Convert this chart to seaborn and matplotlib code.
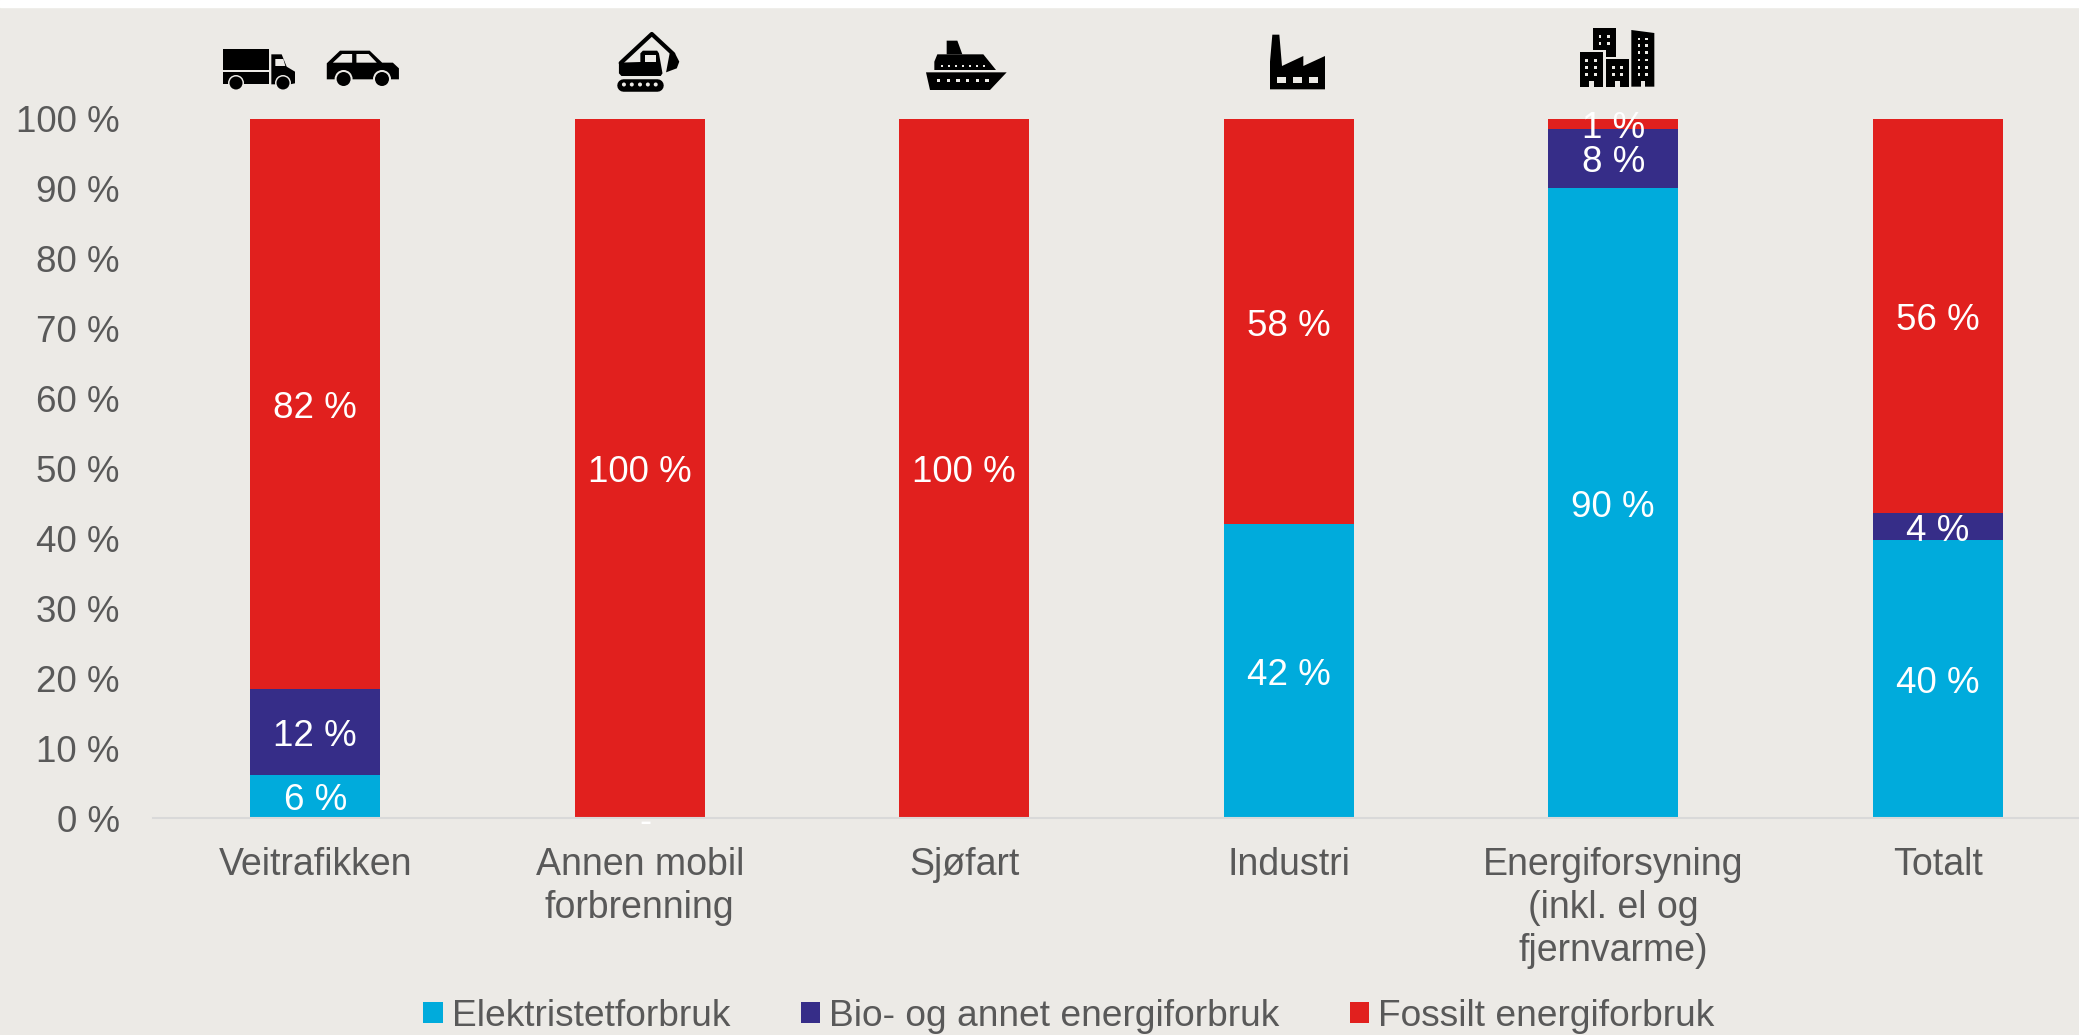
import numpy as np
import matplotlib
matplotlib.use("Agg")
import matplotlib.pyplot as plt
from matplotlib.patches import Circle, Rectangle
import seaborn as sns

kategorier = ["Veitrafikken", "Annen mobil\nforbrenning", "Sjøfart", "Industri",
              "Energiforsyning\n(inkl. el og\nfjernvarme)", "Totalt"]
elektrisitet = [6.2, 0, 0, 42.0, 90.1, 39.7]
bio = [12.3, 0, 0, 0, 8.5, 3.9]
fossilt = [81.5, 100, 100, 58.0, 1.4, 56.4]
etiketter_el = ["6 %", "", "", "42 %", "90 %", "40 %"]
etiketter_bio = ["12 %", "", "", "", "8 %", "4 %"]
etiketter_fossilt = ["82 %", "100 %", "100 %", "58 %", "1 %", "56 %"]
serier = ["Elektristetforbruk", "Bio- og annet energiforbruk", "Fossilt energiforbruk"]
y_ticks = list(range(0, 101, 10))

BLA, LILLA, ROD = "#00ABDC", "#362D88", "#E1201E"
BAKGRUNN = "#ECEAE6"
TEKST = "#595959"
W, H = 2079, 1035

sns.set_style("white")
plt.rcParams["font.family"] = ["Liberation Sans", "DejaVu Sans"]
plt.rcParams["font.size"] = 26

fig = plt.figure(figsize=(W / 100, H / 100), dpi=100, facecolor=BAKGRUNN)
fig.patches.append(Rectangle((0, 1 - 7 / H), 1, 7 / H, transform=fig.transFigure, color="white"))

ax = fig.add_axes([153 / W, 1 - 818 / H, (W - 153) / W, 699 / H])
ax.set_facecolor(BAKGRUNN)

sns.barplot(x=kategorier, y=elektrisitet, color=BLA, saturation=1, width=0.4,
            linewidth=0, label=serier[0], ax=ax)
sns.barplot(x=kategorier, y=bio, bottom=elektrisitet, color=LILLA, saturation=1, width=0.4,
            linewidth=0, label=serier[1], ax=ax)
sns.barplot(x=kategorier, y=fossilt, bottom=np.add(elektrisitet, bio), color=ROD, saturation=1,
            width=0.4, linewidth=0, label=serier[2], ax=ax)

for c, tekst in zip(ax.containers, [etiketter_el, etiketter_bio, etiketter_fossilt]):
    for a in ax.bar_label(c, labels=tekst, label_type="center", color="white", fontsize=26.5):
        a.xyann = (0, -3.2)
ax.annotate("-", xy=(1, 0), xytext=(4, -3), textcoords="offset points", color="white",
            fontsize=26, ha="center", va="center", annotation_clip=False)

ax.set_xlim(-0.5, (W - 153) / 324.5 - 0.5)
ax.set_ylim(0, 100)
ax.set_yticks(y_ticks)
ax.set_yticklabels([f"{v} %" for v in y_ticks])
ax.tick_params(axis="both", length=0, labelcolor=TEKST)
ax.tick_params(axis="y", pad=24, labelsize=26.5)
ax.tick_params(axis="x", pad=21, labelsize=27)
for lbl in ax.get_xticklabels():
    lbl.set_linespacing(1.25)
sns.despine(ax=ax, left=True)
ax.spines["bottom"].set_color("#D9D9D9")
ax.spines["bottom"].set_linewidth(1.5)

handles, labels = ax.get_legend_handles_labels()
ax.get_legend().remove()
fig.legend(handles, labels, loc="center", bbox_to_anchor=(1069 / W, 1 - 1016 / H), ncol=3,
           frameon=False, fontsize=26.7, labelcolor=TEKST, borderpad=0, handlelength=0.52,
           handleheight=0.52, handletextpad=0.25, columnspacing=1.9)

# ikoner over soylene, tegnet i piksler
ik = fig.add_axes([0, 0, 1, 1], facecolor="none")
ik.set_xlim(0, W)
ik.set_ylim(H, 0)
ik.axis("off")


def poly(pts, x0=0, y0=0, sx=3, sy=3, color="black"):
    ik.fill([x0 + p[0] / sx for p in pts], [y0 + p[1] / sy for p in pts], color=color, lw=0)


def firkant(x1, y1, x2, y2, x0=0, y0=0, sx=3, sy=3, color="black"):
    poly([(x1, y1), (x2, y1), (x2, y2), (x1, y2)], x0, y0, sx, sy, color)


def hjul(x, y, r, halo=None):
    if halo:
        ik.add_patch(Circle((x, y), halo, color=BAKGRUNN, lw=0))
    ik.add_patch(Circle((x, y), r, color="black", lw=0))


# lastebil
firkant(668, 148, 807, 211)
firkant(668, 216, 807, 253)
poly([(814, 163), (845, 163), (860, 200), (885, 215), (885, 250), (870, 253), (814, 253)])
poly([(826, 177), (850, 177), (856, 198), (826, 198)], color=BAKGRUNN)
hjul(236, 83, 6.5, 8)
hjul(283, 83, 6.5, 8)

# bil
bx, bs = 200, 2.8
poly([(355, 190), (392, 152), (475, 152), (510, 188), (540, 188), (557, 205), (557, 238), (355, 238)], bx, 0, bs)
poly([(372, 188), (398, 162), (426, 162), (426, 188)], bx, 0, bs, color=BAKGRUNN)
poly([(438, 162), (472, 162), (495, 188), (438, 188)], bx, 0, bs, color=BAKGRUNN)
hjul(343.6, 79, 7, 9)
hjul(382, 79, 7, 9)

# gravemaskin
ik.plot([200 + 1178 / bs, 200 + 1265 / bs, 200 + 1325 / bs], [63, 34, 54], color="black", lw=3)
poly([(1173, 188), (1233, 186), (1233, 160), (1240, 152), (1280, 152), (1285, 160), (1295, 220),
      (1290, 228), (1180, 228), (1173, 220)], bx, 0, bs)
firkant(1245, 165, 1278, 185, bx, 0, bs, 3, BAKGRUNN)
poly([(1315, 160), (1330, 160), (1342, 185), (1335, 205), (1305, 217)], bx, 0, bs)
ik.plot([200 + 1185 / bs, 200 + 1280 / bs], [84.5, 84.5], color="black", lw=9, solid_capstyle="round")
for zx in [1187, 1209, 1232, 1254, 1276]:
    ik.add_patch(Circle((200 + zx / bs, 84.5), 2, color=BAKGRUNN, lw=0, zorder=3))

# skip
poly([(78, 157), (320, 157), (270, 210), (90, 210)], 900, 20)
poly([(103, 150), (103, 125), (112, 103), (250, 103), (288, 150)], 900, 20)
poly([(140, 103), (140, 62), (172, 62), (187, 103)], 900, 20)
for zx in [116, 145, 174, 203, 232, 261]:
    firkant(zx - 5, 177, zx + 5, 187, 900, 20, color=BAKGRUNN)
for zx in [125, 147, 168, 189, 210, 231, 252]:
    firkant(zx - 3, 134, zx + 3, 140, 900, 20, color=BAKGRUNN)

# fabrikk
poly([(210, 268), (210, 185), (217, 104), (238, 104), (246, 198), (310, 168), (310, 198), (375, 168), (375, 268)], 1200)
for zx in [232, 280, 327]:
    firkant(zx, 231, zx + 26, 248, 1200, color=BAKGRUNN)

# bygninger
gx = 1200 + 1000 / 3
firkant(140, 157, 210, 260, gx)
poly([(179, 85), (248, 85), (248, 170), (218, 170), (218, 150), (179, 150)], gx)
firkant(218, 178, 287, 260, gx)
poly([(294, 90), (363, 99), (363, 260), (294, 260)], gx)
for x1 in [168, 246, 322]:
    firkant(x1, 243, x1 + 14, 260, gx, color=BAKGRUNN)
vinduer = [([160, 187], [181, 202, 224]), ([200, 225], [109, 131]), ([240, 265], [202, 224]),
           ([317, 340], [117, 137, 158, 180, 202, 224])]
for kol, rad in vinduer:
    for zx in kol:
        for zy in rad:
            firkant(zx - 4, zy - 4, zx + 4, zy + 4, gx, color=BAKGRUNN)

fig.savefig("out.png", dpi=100, facecolor=BAKGRUNN)
